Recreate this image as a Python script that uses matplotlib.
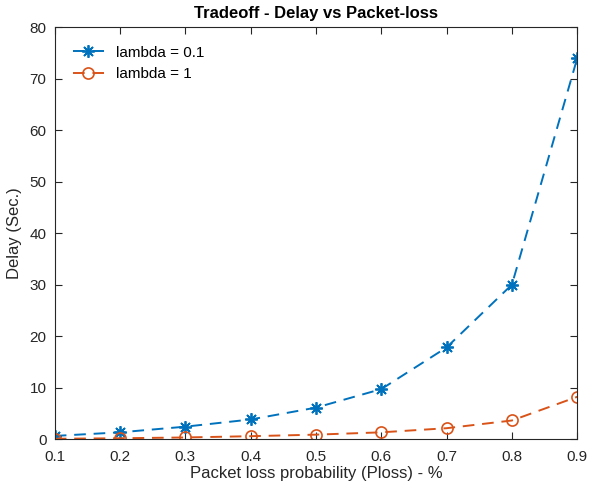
import matplotlib
matplotlib.use("Agg")
import matplotlib.pyplot as plt

x = [0.1, 0.2, 0.3, 0.4, 0.5, 0.6, 0.7, 0.8, 0.9]
delay_l01 = [0.6, 1.3, 2.4, 3.8, 6.1, 9.7, 17.8, 30.0, 74.0]
delay_l1 = [0.05, 0.15, 0.3, 0.55, 0.85, 1.3, 2.1, 3.6, 8.2]
xticks = [0.1, 0.2, 0.3, 0.4, 0.5, 0.6, 0.7, 0.8, 0.9]
yticks = [0, 10, 20, 30, 40, 50, 60, 70, 80]

plt.rcParams['font.family'] = ['Liberation Sans', 'DejaVu Sans']
fig = plt.figure(figsize=(5.89, 4.93), dpi=100)
ax = fig.add_axes([0.093, 0.1095, 0.887, 0.835])
ax.plot(x, delay_l01, linestyle=(0, (6, 4)), color='#0072BD', marker=(8, 2, 0), markersize=9,
        markeredgewidth=1.3, linewidth=1.4, label='lambda = 0.1')
ax.plot(x, delay_l1, linestyle=(0, (6, 4)), color='#D95319', marker='o', markersize=8,
        markerfacecolor='none', markeredgewidth=1.2, linewidth=1.4, label='lambda = 1')
ax.set_xlim(0.1, 0.9)
ax.set_ylim(0, 80)
ax.set_xticks(xticks)
ax.set_yticks(yticks)
ax.set_xticklabels([f'{v:g}' for v in xticks])
ax.tick_params(direction='in', top=True, right=True, labelsize=11, colors='#262626', length=5)
ax.tick_params(axis='x', pad=8)
ax.tick_params(axis='y', pad=6)
for s in ax.spines.values():
    s.set_color('#262626')
    s.set_linewidth(0.8)
ax.set_title('Tradeoff - Delay vs Packet-loss', fontsize=12, fontweight='bold', color='black', pad=7)
ax.set_xlabel('Packet loss probability (Ploss) - %', fontsize=12, color='#262626', labelpad=1)
ax.set_ylabel('Delay (Sec.)', fontsize=12, color='#262626', labelpad=5)
leg = ax.legend(loc='upper left', frameon=False, fontsize=11, handlelength=2.0,
                bbox_to_anchor=(0.0, 1.0), borderaxespad=0.8)
fig.savefig('out.png', dpi=100)
